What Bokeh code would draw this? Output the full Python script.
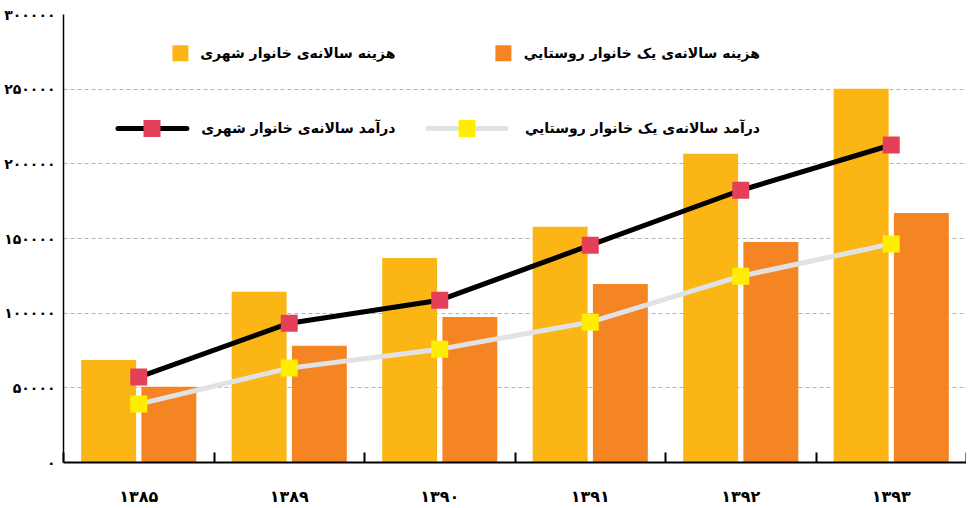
from bokeh.plotting import figure
from bokeh.models import ColumnDataSource, Range1d, FixedTicker, Label
from bokeh.transform import dodge
from bokeh.embed import file_html
from bokeh.resources import INLINE

# ---------------- data ----------------
years = ["۱۳۸۵", "۱۳۸۹", "۱۳۹۰", "۱۳۹۱", "۱۳۹۲", "۱۳۹۳"]
urban_cost = [68700, 114300, 137000, 157800, 206800, 250300]
rural_cost = [50700, 78100, 97500, 119600, 147700, 167100]
urban_income = [57200, 93300, 108700, 145500, 182300, 212600]
rural_income = [39100, 63200, 75900, 94000, 124800, 146400]

y_ticks = [0, 50000, 100000, 150000, 200000, 250000, 300000]
y_tick_labels = ["۰", "۵۰۰۰۰", "۱۰۰۰۰۰", "۱۵۰۰۰۰", "۲۰۰۰۰۰", "۲۵۰۰۰۰", "۳۰۰۰۰۰"]

name_urban_cost = "هزینه سالانه‌ی خانوار شهری"
name_rural_cost = "هزینه سالانه‌ی یک خانوار روستايي"
name_urban_income = "درآمد سالانه‌ی خانوار شهری"
name_rural_income = "درآمد سالانه‌ی یک خانوار روستايي"

# ---------------- style ----------------
C_URBAN_COST = "#FBB615"
C_RURAL_COST = "#F58423"
C_URBAN_LINE = "#000000"
C_URBAN_MARK = "#E5405A"
C_RURAL_LINE = "#E1E2E3"
C_RURAL_MARK = "#FFEE00"
FONT = "DejaVu Sans"

idx = list(range(len(years)))
source = ColumnDataSource(dict(
    x=idx, urban_cost=urban_cost, rural_cost=rural_cost,
    urban_income=urban_income, rural_income=rural_income,
))

p = figure(width=966, height=508,
           x_range=Range1d(-0.5, len(years) - 0.5),
           y_range=Range1d(y_ticks[0], y_ticks[-1]),
           output_backend="svg", toolbar_location=None,
           min_border_left=63, min_border_right=0,
           min_border_top=14, min_border_bottom=46)
p.outline_line_color = None
p.background_fill_color = "white"
p.border_fill_color = "white"

# grid
p.xgrid.visible = False
p.ygrid.ticker = FixedTicker(ticks=y_ticks)
p.ygrid.grid_line_color = "#b3b3b3"
p.ygrid.grid_line_dash = "4 3"
p.ygrid.grid_line_width = 1

# y axis
p.yaxis.ticker = FixedTicker(ticks=y_ticks, minor_ticks=[])
p.yaxis.major_label_overrides = {t: l for t, l in zip(y_ticks, y_tick_labels)}
p.yaxis.major_tick_in = 0
p.yaxis.major_tick_out = 0
p.yaxis.minor_tick_in = 0
p.yaxis.minor_tick_out = 0
p.yaxis.axis_line_color = "black"
p.yaxis.axis_line_width = 1.5
p.yaxis.major_label_standoff = 8
p.yaxis.major_label_text_font = FONT
p.yaxis.major_label_text_font_style = "bold"
p.yaxis.major_label_text_font_size = "14px"
p.yaxis.major_label_text_color = "black"

# x axis
p.xaxis.ticker = FixedTicker(ticks=idx, minor_ticks=[i - 0.5 for i in range(len(years) + 1)])
p.xaxis.major_label_overrides = {i: y for i, y in zip(idx, years)}
p.xaxis.major_tick_in = 0
p.xaxis.major_tick_out = 0
p.xaxis.minor_tick_in = 10
p.xaxis.minor_tick_out = 0
p.xaxis.minor_tick_line_width = 2
p.xaxis.minor_tick_line_color = "black"
p.xaxis.axis_line_color = "black"
p.xaxis.axis_line_width = 2
p.xaxis.major_label_standoff = 24
p.xaxis.major_label_text_font = FONT
p.xaxis.major_label_text_font_style = "bold"
p.xaxis.major_label_text_font_size = "16px"
p.xaxis.major_label_text_color = "black"

# bars
BAR_W = 0.365
p.vbar(x=dodge("x", -0.2, range=p.x_range), top="urban_cost", width=BAR_W,
       source=source, fill_color=C_URBAN_COST, line_color=None)
p.vbar(x=dodge("x", 0.2, range=p.x_range), top="rural_cost", width=BAR_W,
       source=source, fill_color=C_RURAL_COST, line_color=None)

# lines
p.line(x="x", y="urban_income", source=source, line_color=C_URBAN_LINE, line_width=5)
p.line(x="x", y="rural_income", source=source, line_color=C_RURAL_LINE, line_width=5)
p.scatter(x="x", y="urban_income", source=source, marker="square", size=17,
          fill_color=C_URBAN_MARK, line_color=None)
p.scatter(x="x", y="rural_income", source=source, marker="square", size=17,
          fill_color=C_RURAL_MARK, line_color=None)

# ---------------- legend (layout positions in data units) ----------------
ROW1_Y = 274000
ROW2_Y = 223700
TEXT_R1 = 1.706
TEXT_R2 = 4.128

p.scatter(x=[0.277], y=[ROW1_Y], marker="square", size=16,
          fill_color=C_URBAN_COST, line_color=None)
p.scatter(x=[2.423], y=[ROW1_Y], marker="square", size=16,
          fill_color=C_RURAL_COST, line_color=None)

p.segment(x0=[-0.138], y0=[ROW2_Y], x1=[0.32], y1=[ROW2_Y],
          line_color=C_URBAN_LINE, line_width=5, line_cap="round")
p.scatter(x=[0.088], y=[ROW2_Y], marker="square", size=17,
          fill_color=C_URBAN_MARK, line_color=None)
p.segment(x0=[1.922], y0=[ROW2_Y], x1=[2.44], y1=[ROW2_Y],
          line_color=C_RURAL_LINE, line_width=5, line_cap="round")
p.scatter(x=[2.181], y=[ROW2_Y], marker="square", size=17,
          fill_color=C_RURAL_MARK, line_color=None)

for tx, ty, txt in [(TEXT_R1, ROW1_Y, name_urban_cost),
                    (TEXT_R2, ROW1_Y, name_rural_cost),
                    (TEXT_R1, ROW2_Y, name_urban_income),
                    (TEXT_R2, ROW2_Y, name_rural_income)]:
    p.add_layout(Label(x=tx, y=ty, text=txt, text_align="right",
                       text_baseline="middle", text_font=FONT,
                       text_font_style="bold", text_font_size="14px",
                       text_color="black"))

open("out.html", "w").write(file_html(p, INLINE))
